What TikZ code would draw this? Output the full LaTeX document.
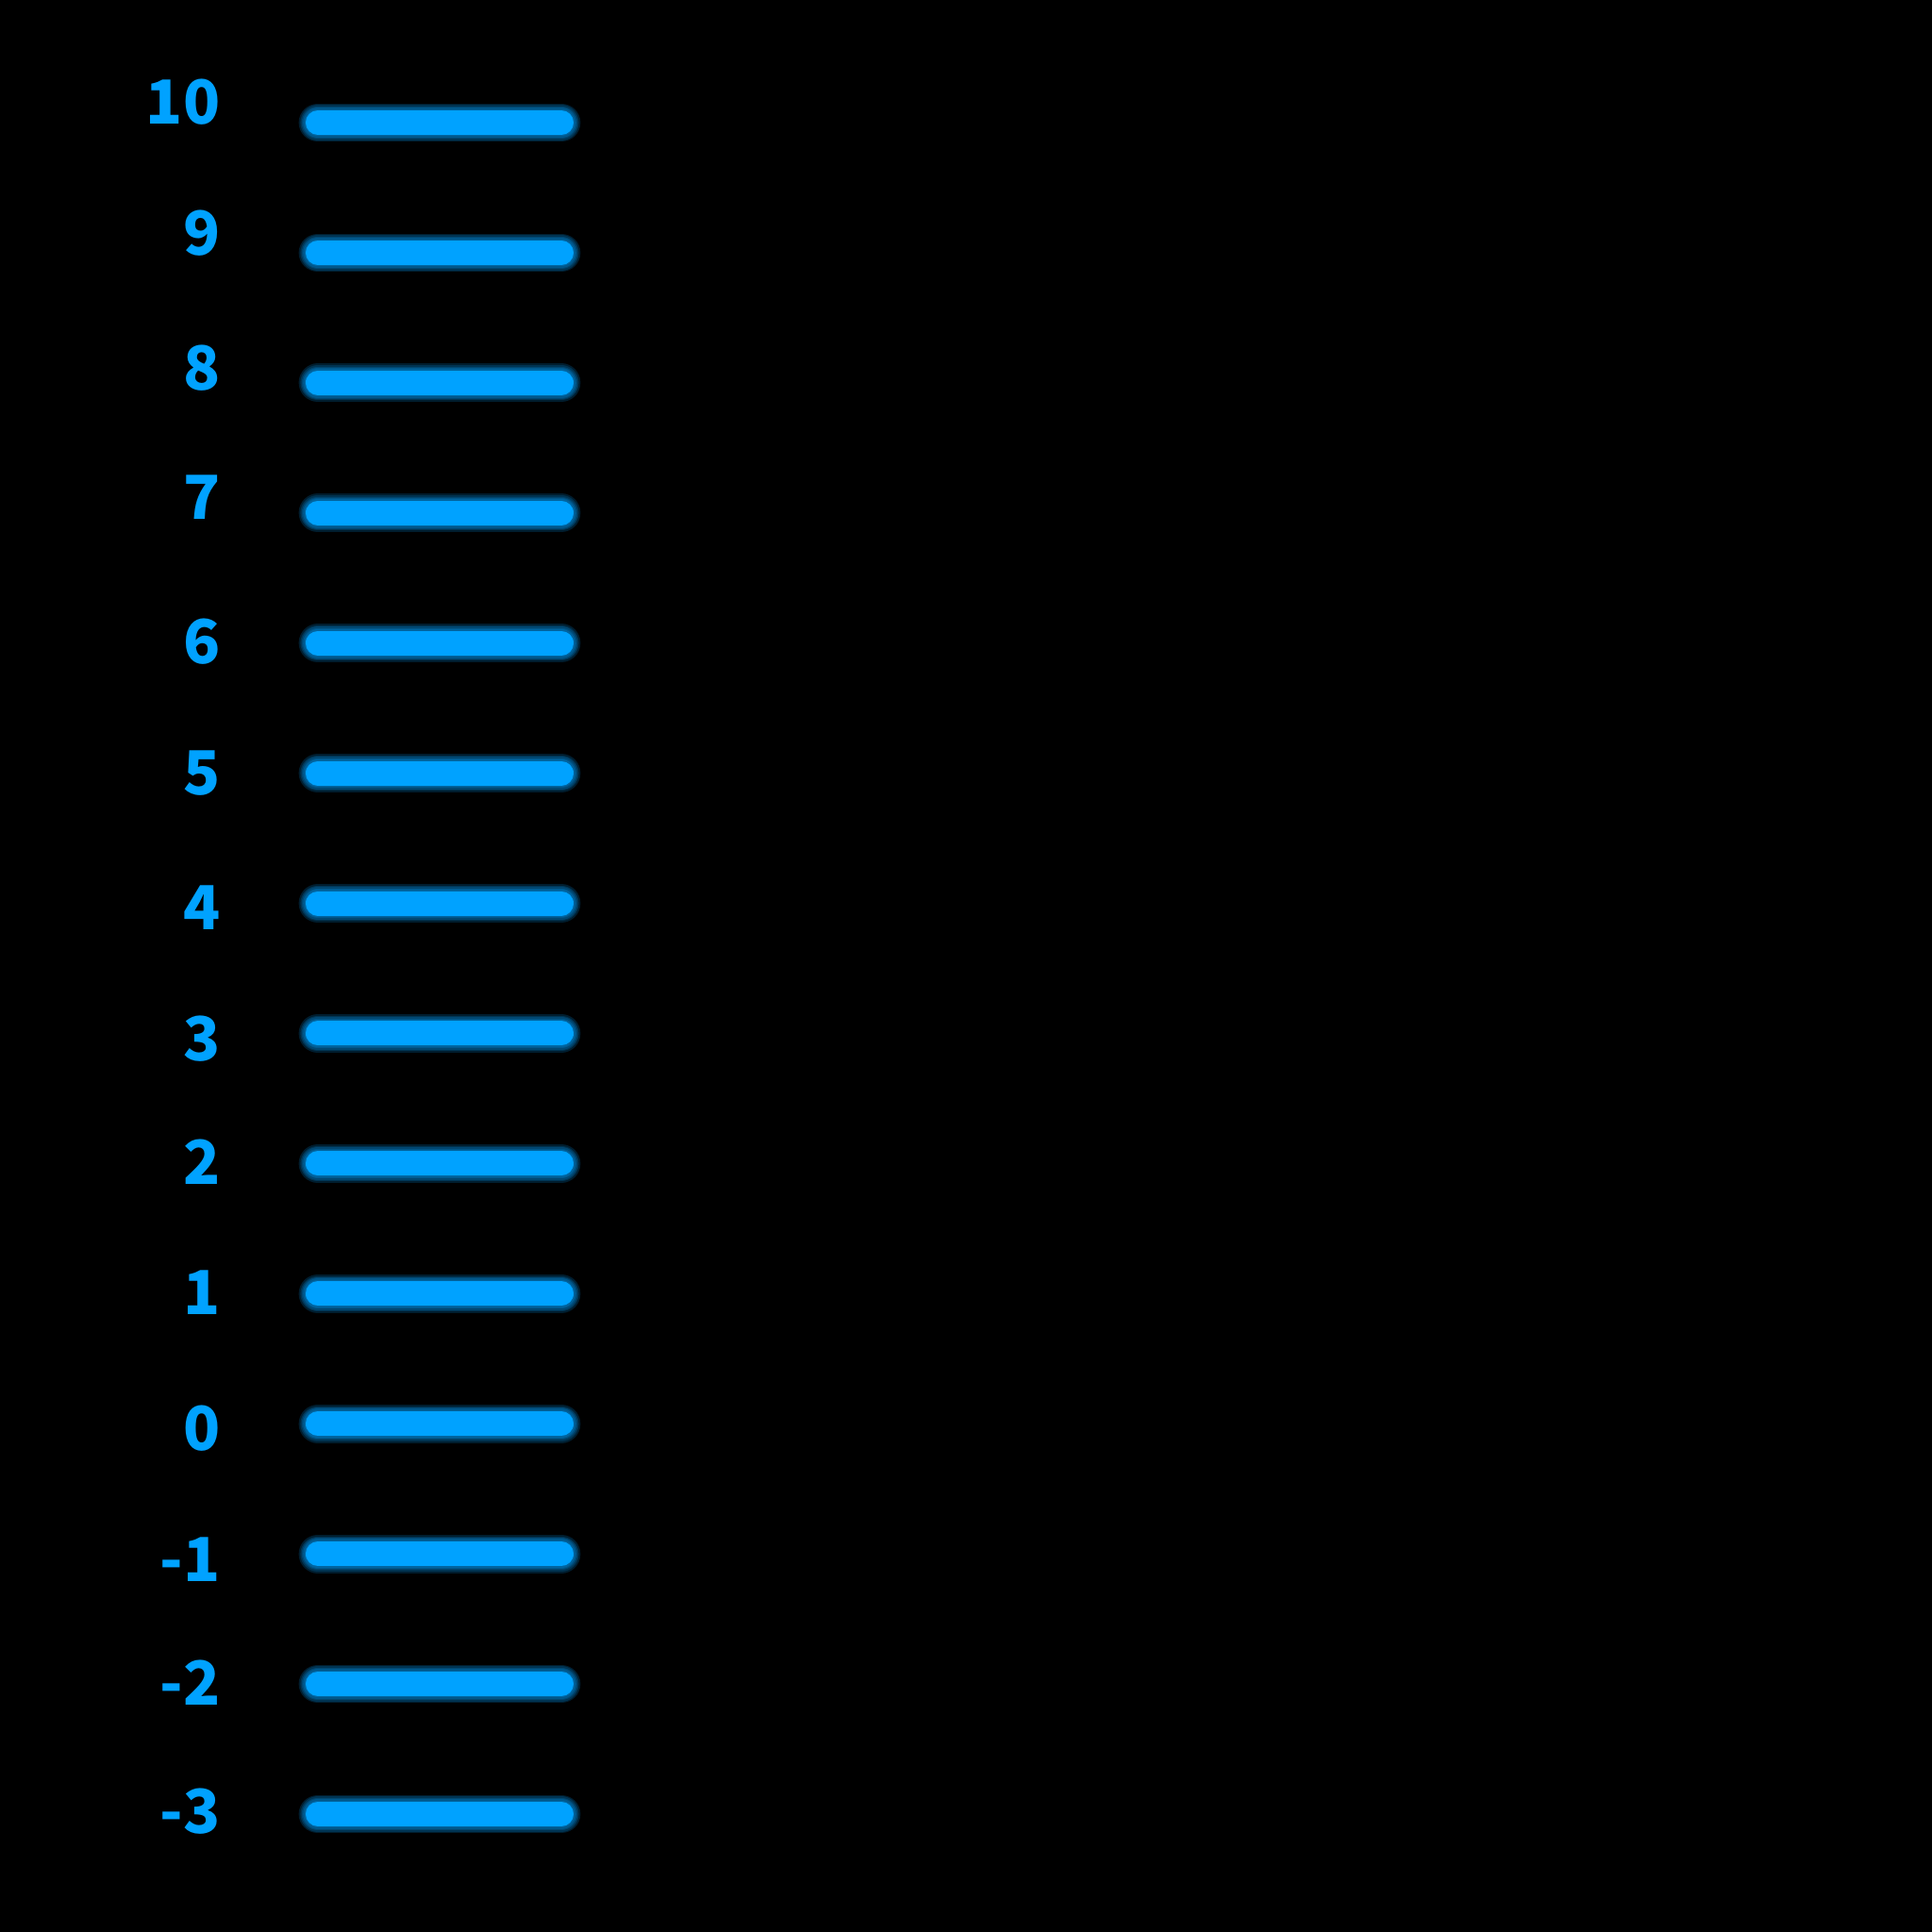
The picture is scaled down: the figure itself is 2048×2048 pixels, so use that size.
\documentclass[tikz,border=0pt]{standalone}
\usepackage{fontspec}
\usepackage{xcolor}
\newfontfamily\tickfont{Noto Sans CJK JP Black}
\definecolor{glowblue}{HTML}{00A2FF}
\tikzset{
  barcore/.style={glowblue,line width=7.4pt,line cap=round},
  barglow/.style={glowblue,line cap=round,opacity=0.18},
  ticklabel/.style={glowblue,anchor=base east,inner sep=0pt,font=\tickfont\fontsize{18.3}{22}\selectfont}
}

\begin{document}
\begin{tikzpicture}[x=0.01cm,y=-0.01cm]
\fill[black] (0,0) rectangle (2048,2048);
\useasboundingbox (0,0) rectangle (2048,2048);
% glowing bars
\foreach \k in {0,...,13} {
  \coordinate (bl\k) at (337,130+137.92*\k);
  \coordinate (br\k) at (595,130+137.92*\k);
  \foreach \w in {11.6,10.6,9.8,9,8.2} \draw[barglow,line width=\w pt] (bl\k)--(br\k);
  \draw[barcore] (bl\k)--(br\k);
}
% labels
\foreach \v/\b [count=\n] in {10/131,9/270,8/413,7/550,6/703,5/842,4/985,3/1124,2/1255,1/1393,0/1537,-1/1676,-2/1807,-3/1943}
  \node[ticklabel] (lbl\n) at (234,\b) {\v};
\end{tikzpicture}
\end{document}
